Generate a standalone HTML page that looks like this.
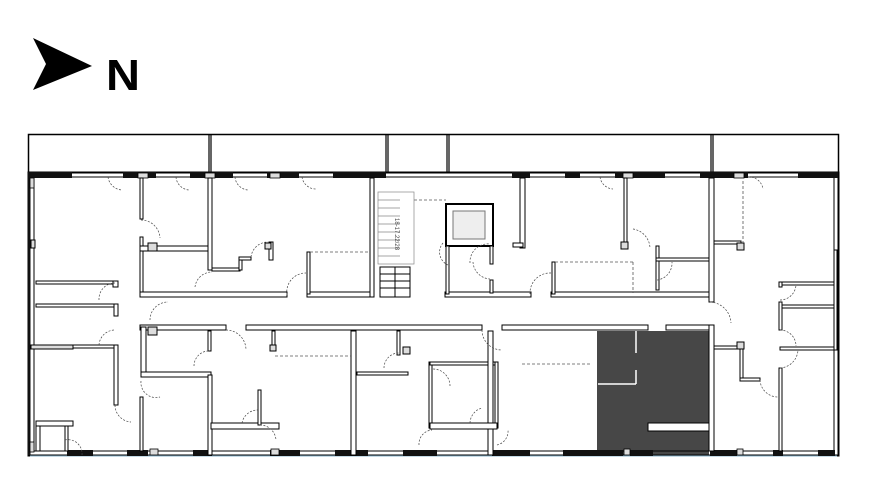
<!DOCTYPE html>
<html><head><meta charset="utf-8"><style>
html,body{margin:0;padding:0;background:#fff;width:869px;height:500px;overflow:hidden}
svg{display:block}
</style></head><body>
<svg width="869" height="500" viewBox="0 0 869 500" xmlns="http://www.w3.org/2000/svg">
<polygon points="33,38 92,66 33,90 46,64" fill="#000"/>
<text x="106" y="90" font-family="Liberation Sans, sans-serif" font-weight="bold" font-size="44" fill="#000" textLength="34" lengthAdjust="spacingAndGlyphs">N</text>

<rect x="28.5" y="134.5" width="810" height="38" fill="none" stroke="#000" stroke-width="1.5"/>
<g stroke="#000" stroke-width="1.2">
<line x1="209" y1="135" x2="209" y2="172"/><line x1="211" y1="135" x2="211" y2="172"/>
<line x1="386" y1="135" x2="386" y2="172"/><line x1="388" y1="135" x2="388" y2="172"/>
<line x1="447" y1="135" x2="447" y2="172"/><line x1="449" y1="135" x2="449" y2="172"/>
<line x1="711" y1="135" x2="711" y2="172"/><line x1="713" y1="135" x2="713" y2="172"/>
</g>

<rect x="597" y="331" width="112" height="124" fill="#474747"/>
<g stroke="#fff" stroke-width="1.5">
<line x1="636" y1="331" x2="636" y2="353"/><line x1="636" y1="370" x2="636" y2="384"/>
<line x1="598" y1="384" x2="636" y2="384"/>
</g>
<rect x="648" y="423" width="61" height="8" fill="#fff" stroke="#000"/>

<g fill="none" stroke="#000">
<rect x="28.5" y="172.5" width="810" height="283" stroke-width="2"/>
<line x1="34" y1="177" x2="833" y2="177" stroke-width="1"/>
<line x1="34" y1="177" x2="34" y2="451" stroke-width="1"/>
<line x1="834" y1="177" x2="834" y2="451" stroke-width="1"/>
<line x1="34" y1="451" x2="834" y2="451" stroke-width="1"/>
</g>
<line x1="30" y1="456" x2="837" y2="456" stroke="#8ab4cc" stroke-width="1"/>
<g fill="#111">
<rect x="28" y="172" width="44" height="6"/><rect x="123" y="172" width="33" height="6"/><rect x="190" y="172" width="43" height="6"/><rect x="267" y="172" width="32" height="6"/><rect x="333" y="172" width="53" height="6"/>
<rect x="512" y="172" width="18" height="6"/><rect x="565" y="172" width="15" height="6"/><rect x="615" y="172" width="50" height="6"/><rect x="700" y="172" width="48" height="6"/><rect x="798" y="172" width="40" height="6"/>
<rect x="67" y="450" width="26" height="6"/><rect x="127" y="450" width="21" height="6"/><rect x="193" y="450" width="19" height="6"/><rect x="270" y="450" width="30" height="6"/><rect x="335" y="450" width="33" height="6"/><rect x="403" y="450" width="34" height="6"/>
<rect x="492" y="450" width="38" height="6"/><rect x="563" y="450" width="60" height="6"/><rect x="630" y="450" width="23" height="6"/><rect x="710" y="450" width="27" height="6"/><rect x="773" y="450" width="10" height="6"/><rect x="818" y="450" width="17" height="6"/>
<rect x="28" y="172" width="2.5" height="283"/>
</g>
<g fill="#ddd" stroke="#000" stroke-width="0.8">
<rect x="30" y="178" width="4" height="10"/><rect x="30" y="442" width="4" height="10"/>
<rect x="138" y="173" width="10" height="5"/><rect x="205" y="173" width="10" height="5"/><rect x="270" y="173" width="10" height="5"/>
<rect x="623" y="173" width="10" height="5"/><rect x="734" y="173" width="10" height="5"/>
<rect x="150" y="449" width="8" height="6"/><rect x="271" y="449" width="8" height="6"/><rect x="624" y="449" width="6" height="6"/><rect x="737" y="449" width="6" height="6"/>
</g>

<g fill="#fff" stroke="#000" stroke-width="1">
<rect x="140" y="178" width="3" height="41"/>
<rect x="140" y="237" width="3" height="58"/>
<rect x="140" y="246" width="70" height="5"/>
<rect x="208" y="178" width="4" height="92"/>
<rect x="212" y="268" width="28" height="3"/>
<rect x="239" y="258" width="3" height="12"/>
<rect x="239" y="257" width="12" height="3"/>
<rect x="269" y="242" width="4" height="18"/>
<rect x="265" y="243" width="6" height="6" fill="#ddd"/>
<rect x="148" y="243" width="9" height="8" fill="#ddd"/>
<rect x="140" y="292" width="147" height="5"/>
<rect x="307" y="292" width="64" height="5"/>
<rect x="307" y="252" width="3" height="42"/>
<rect x="370" y="178" width="4" height="119"/>
<rect x="445" y="292" width="86" height="5"/>
<rect x="551" y="292" width="159" height="5"/>
<rect x="552" y="262" width="3" height="32"/>
<rect x="380" y="267" width="30" height="30" fill="none"/>
<line x1="380" y1="274" x2="410" y2="274"/><line x1="380" y1="281" x2="410" y2="281"/><line x1="380" y1="288" x2="410" y2="288"/>
<line x1="395" y1="267" x2="395" y2="297"/>
<rect x="446" y="204" width="47" height="42" stroke-width="2"/>
<rect x="453" y="211" width="32" height="28" fill="#eee" stroke="#777"/>
<rect x="446" y="246" width="3" height="48"/>
<rect x="490" y="246" width="3" height="18"/>
<rect x="490" y="280" width="3" height="13"/>
<rect x="520" y="178" width="5" height="70"/>
<rect x="513" y="243" width="10" height="4"/>
<rect x="624" y="178" width="3" height="66"/>
<rect x="621" y="242" width="7" height="7" fill="#ddd"/>
<rect x="656" y="246" width="3" height="44"/>
<rect x="656" y="258" width="54" height="3"/>
<rect x="709" y="178" width="5" height="124"/>
<rect x="714" y="241" width="27" height="3"/>
<rect x="737" y="243" width="7" height="7" fill="#ddd"/>
<rect x="780" y="282" width="54" height="3"/>
<rect x="780" y="305" width="54" height="3"/>
<rect x="780" y="347" width="54" height="3"/>
<rect x="779" y="282" width="3" height="5"/>
<rect x="779" y="302" width="3" height="28"/>
<rect x="779" y="368" width="3" height="83"/>
<rect x="834" y="250" width="3" height="100"/>
<rect x="140" y="325" width="86" height="5"/>
<rect x="246" y="325" width="236" height="5"/>
<rect x="502" y="325" width="146" height="5"/>
<rect x="666" y="325" width="44" height="5"/>
<rect x="709" y="325" width="5" height="126"/>
<rect x="714" y="346" width="27" height="3"/>
<rect x="740" y="346" width="3" height="34"/>
<rect x="740" y="378" width="20" height="3"/>
<rect x="737" y="342" width="7" height="7" fill="#ddd"/>
<rect x="36" y="281" width="81" height="3"/>
<rect x="36" y="304" width="80" height="3"/>
<rect x="31" y="345" width="42" height="4" fill="#ddd"/>
<rect x="73" y="345" width="43" height="3"/>
<rect x="114" y="304" width="4" height="12"/>
<rect x="114" y="345" width="4" height="60"/>
<rect x="113" y="281" width="5" height="6"/>
<rect x="31" y="240" width="4" height="8" fill="#ddd"/>
<rect x="141" y="327" width="5" height="48"/>
<rect x="148" y="327" width="9" height="8" fill="#ddd"/>
<rect x="141" y="372" width="70" height="5"/>
<rect x="208" y="375" width="4" height="80"/>
<rect x="208" y="331" width="3" height="20"/>
<rect x="140" y="397" width="3" height="54"/>
<rect x="351" y="331" width="5" height="124"/>
<rect x="272" y="331" width="3" height="20"/>
<rect x="270" y="345" width="6" height="6" fill="#ddd"/>
<rect x="357" y="372" width="51" height="3"/>
<rect x="397" y="331" width="3" height="24"/>
<rect x="403" y="347" width="7" height="7" fill="#ddd"/>
<rect x="429" y="362" width="3" height="66"/>
<rect x="430" y="362" width="67" height="3"/>
<rect x="495" y="362" width="3" height="66"/>
<rect x="488" y="331" width="5" height="124"/>
<rect x="211" y="423" width="68" height="6"/>
<rect x="258" y="390" width="3" height="35"/>
<rect x="430" y="423" width="67" height="6"/>
<rect x="36" y="421" width="37" height="5"/>
<rect x="36" y="426" width="4" height="25"/>
<rect x="65" y="426" width="3" height="25"/>
</g>

<g fill="none" stroke="#555" stroke-width="0.8" stroke-dasharray="3,2">
<line x1="310" y1="252" x2="370" y2="252"/>
<line x1="275" y1="356" x2="351" y2="356"/>
<line x1="522" y1="364" x2="590" y2="364"/>
<line x1="555" y1="262" x2="633" y2="262"/><line x1="633" y1="262" x2="633" y2="293"/>
<line x1="743" y1="181" x2="743" y2="243"/>
<line x1="414" y1="200" x2="446" y2="200"/>
</g>
<g fill="none" stroke="#888" stroke-width="0.7">
<rect x="378" y="192" width="36" height="72"/>
<line x1="378" y1="200" x2="400" y2="200"/><line x1="378" y1="208" x2="400" y2="208"/><line x1="378" y1="216" x2="400" y2="216"/><line x1="378" y1="224" x2="400" y2="224"/><line x1="378" y1="232" x2="400" y2="232"/><line x1="378" y1="240" x2="400" y2="240"/><line x1="378" y1="248" x2="400" y2="248"/><line x1="378" y1="256" x2="400" y2="256"/>
</g>
<text x="0" y="0" transform="translate(395,218) rotate(90)" font-family="Liberation Sans, sans-serif" font-size="6" fill="#444">18-17.22/28</text>

<g fill="none" stroke="#444" stroke-width="0.7" stroke-dasharray="2,1.5">
<path d="M108,177 A15,15 0 0 0 122,190"/>
<path d="M176,177 A14,14 0 0 0 190,190"/>
<path d="M235,177 A14,14 0 0 0 249,190"/>
<path d="M302,177 A14,14 0 0 0 316,189"/>
<path d="M141,220 A19,19 0 0 1 160,238"/>
<path d="M195,287 A17,17 0 0 1 212,272"/>
<path d="M251,257 A17,17 0 0 1 268,242"/>
<path d="M287,295 A19,19 0 0 1 306,273"/>
<path d="M99,300 A16,16 0 0 1 115,283"/>
<path d="M99,345 A16,16 0 0 1 115,330"/>
<path d="M150,320 A18,18 0 0 1 168,302"/>
<path d="M226,330 A20,20 0 0 1 246,350"/>
<path d="M194,366 A15,15 0 0 1 210,351"/>
<path d="M141,381 A15,15 0 0 0 160,397"/>
<path d="M115,405 A17,17 0 0 0 131,422"/>
<path d="M384,368 A15,15 0 0 1 400,353"/>
<path d="M450,386 A17,17 0 0 0 433,369"/>
<path d="M443,243 A14,14 0 0 0 448,265"/>
<path d="M473,262 A18,18 0 0 0 490,279"/>
<path d="M470,263 A18,18 0 0 1 490,244"/>
<path d="M530,294 A20,20 0 0 1 551,273"/>
<path d="M600,177 A14,14 0 0 0 613,189"/>
<path d="M633,229 A20,20 0 0 1 650,248"/>
<path d="M657,280 A17,17 0 0 0 672,262"/>
<path d="M710,302 A22,22 0 0 1 731,323"/>
<path d="M482,330 A20,20 0 0 0 502,350"/>
<path d="M748,177 A14,14 0 0 1 763,189"/>
<path d="M780,300 A16,16 0 0 0 796,285"/>
<path d="M780,330 A16,16 0 0 1 796,346"/>
<path d="M780,368 A19,19 0 0 0 798,350"/>
<path d="M760,380 A18,18 0 0 0 778,397"/>
<path d="M65,440 A14,14 0 0 1 82,455"/>
<path d="M260,425 A16,16 0 0 1 276,440"/>
<path d="M242,423 A16,16 0 0 1 258,410"/>
<path d="M419,445 A14,14 0 0 1 432,430"/>
<path d="M470,423 A16,16 0 0 1 482,408"/>
<path d="M497,445 A14,14 0 0 0 508,430"/>
</g>
</svg>
</body></html>
